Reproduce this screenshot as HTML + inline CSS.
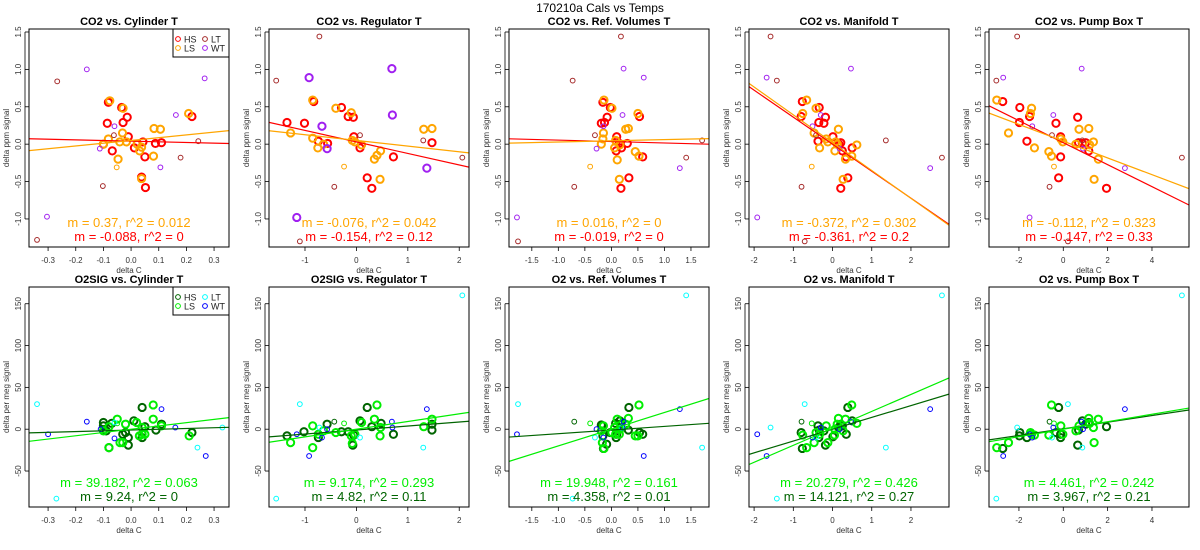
<!DOCTYPE html>
<html><head><meta charset="utf-8"><style>
html,body{margin:0;padding:0;background:#fff;}
svg{display:block;font-family:"Liberation Sans",Arial,sans-serif;}
</style></head><body>
<svg id="chart" width="1200" height="550" viewBox="0 0 1200 550" xmlns="http://www.w3.org/2000/svg">
<text x="600" y="12" text-anchor="middle" font-size="12">170210a   Cals vs Temps</text>
</svg>
<script>
// ---- data ----
const panelTitlesTop = ["CO2 vs. Cylinder T","CO2 vs. Regulator T","CO2 vs. Ref. Volumes T","CO2 vs. Manifold T","CO2 vs. Pump Box T"];
const panelTitlesBot = ["O2SIG vs. Cylinder T","O2SIG vs. Regulator T","O2 vs. Ref. Volumes T","O2 vs. Manifold T","O2 vs. Pump Box T"];
const xRanges = [[-0.369,0.354],[-1.70,2.19],[-1.93,1.84],[-2.13,2.97],[-3.35,5.67]];
const xTicks = [[-0.3,-0.2,-0.1,0.0,0.1,0.2,0.3],[-1,0,1,2],[-1.5,-1.0,-0.5,0.0,0.5,1.0,1.5],[-2,-1,0,1,2],[-2,0,2,4]];
const xTickLabels = [["-0.3","-0.2","-0.1","0.0","0.1","0.2","0.3"],["-1","0","1","2"],["-1.5","-1.0","-0.5","0.0","0.5","1.0","1.5"],["-2","-1","0","1","2"],["-2","0","2","4"]];
const yRangeTop = [-1.375,1.54];
const yRangeBot = [-93,170];
const yTicksTop = [-1.0,-0.5,0.0,0.5,1.0,1.5];
const yTickLabelsTop = ["-1.0","-0.5","0.0","0.5","1.0","1.5"];
const yTicksBot = [-50,0,50,100,150];
const yTickLabelsBot = ["-50","0","50","100","150"];
// fit lines: [slope, intercept]
const fitLSTop = [[0.37,0.05],[-0.076,0.05],[0.016,0.045],[-0.372,0.02],[-0.112,0.04]];
const fitHSTop = [[-0.088,0.04],[-0.154,0.03],[-0.019,0.035],[-0.361,0.0],[-0.147,0.02]];
const fitLSBot = [[39.182,0],[9.174,0],[19.948,0],[20.279,1],[4.461,0]];
const fitHSBot = [[9.24,-1],[4.82,-1],[4.358,-1],[14.121,0],[3.967,0.5]];
const textLSTop = ["m = 0.37, r^2 = 0.012","m = -0.076, r^2 = 0.042","m = 0.016, r^2 = 0","m = -0.372, r^2 = 0.302","m = -0.112, r^2 = 0.323"];
const textHSTop = ["m = -0.088, r^2 = 0","m = -0.154, r^2 = 0.12","m = -0.019, r^2 = 0","m = -0.361, r^2 = 0.2","m = -0.147, r^2 = 0.33"];
const textLSBot = ["m = 39.182, r^2 = 0.063","m = 9.174, r^2 = 0.293","m = 19.948, r^2 = 0.161","m = 20.279, r^2 = 0.426","m = 4.461, r^2 = 0.242"];
const textHSBot = ["m = 9.24, r^2 = 0","m = 4.82, r^2 = 0.11","m = 4.358, r^2 = 0.01","m = 14.121, r^2 = 0.27","m = 3.967, r^2 = 0.21"];
// points [x, y, group]; groups: 0 HS, 1 LS, 2 LT, 3 WT, 4 LS small, 5 HS small, 6 WT large
const co2Cyl = [[-0.082,0.56,0],[-0.086,0.28,0],[-0.034,0.49,0],[-0.029,0.29,0],[-0.014,0.36,0],[-0.01,0.10,0],[-0.068,-0.09,0],[0.012,-0.05,0],[0.043,0.03,0],[0.05,-0.17,0],[0.038,-0.44,0],[0.052,-0.58,0],[0.088,0.01,0],[0.11,0.02,0],[0.22,0.37,0],[-0.10,0.0,0],
[-0.077,0.58,1],[-0.029,0.48,1],[-0.082,0.07,1],[-0.10,0.0,1],[-0.031,0.15,1],[-0.041,0.03,1],[-0.017,0.03,1],[-0.047,-0.2,1],[0.022,0.0,1],[0.031,-0.09,1],[0.038,-0.04,1],[0.038,-0.46,1],[0.083,0.21,1],[0.106,0.20,1],[0.081,-0.16,1],[0.208,0.41,1],[-0.052,-0.31,4],
[-0.267,0.84,2],[-0.102,-0.56,2],[-0.062,0.12,2],[0.179,-0.18,2],[0.243,0.04,2],[-0.34,-1.28,2],
[-0.16,1.0,3],[-0.113,-0.06,3],[-0.06,0.24,3],[0.162,0.39,3],[0.106,-0.31,3],[0.266,0.88,3],[-0.304,-0.97,3]];
const co2Reg = [[-1.35,0.29,0],[-1.01,0.28,0],[-0.83,0.57,0],[-0.74,0.04,0],[-0.56,0.01,0],[-0.29,0.49,0],[-0.16,0.37,0],[-0.06,0.36,0],[-0.05,0.10,0],[0.07,-0.05,0],[0.21,-0.45,0],[0.30,-0.59,0],[0.72,-0.17,0],[1.47,0.02,0],
[-0.85,0.59,1],[-1.28,0.15,1],[-0.85,0.08,1],[-0.75,-0.05,1],[-0.64,0.0,1],[-0.40,0.48,1],[-0.10,0.42,1],[-0.08,0.05,1],[-0.03,0.03,1],[0.10,-0.01,1],[0.35,-0.2,1],[0.40,-0.15,1],[0.47,-0.09,1],[0.46,-0.47,1],[1.31,0.2,1],[1.47,0.21,1],[-0.24,-0.30,4],
[-1.56,0.85,2],[-0.72,1.44,2],[0.07,0.12,2],[-0.43,-0.57,2],[1.30,0.05,2],[2.06,-0.18,2],[-1.10,-1.30,2],
[-0.92,0.89,6],[-0.67,0.24,6],[-0.57,-0.06,6],[0.69,1.01,6],[0.70,0.39,6],[1.37,-0.32,6],[-1.16,-0.98,6]];
const co2Ref = [[-0.16,0.56,0],[-0.19,0.28,0],[-0.13,0.29,0],[-0.08,0.36,0],[-0.02,0.49,0],[0.10,0.10,0],[0.09,0.04,0],[0.19,-0.05,0],[0.15,0.01,0],[0.30,0.01,0],[0.53,0.37,0],[0.59,-0.17,0],[0.33,-0.45,0],[0.18,-0.59,0],[0.09,-0.09,0],
[-0.14,0.59,1],[0.01,0.48,1],[-0.15,0.15,1],[-0.16,0.07,1],[-0.19,0.0,1],[0.08,0.05,1],[0.06,-0.05,1],[0.11,-0.21,1],[0.27,0.2,1],[0.32,0.21,1],[0.50,0.41,1],[0.45,-0.10,1],[0.52,-0.16,1],[0.15,-0.47,1],[0.16,-0.01,1],[-0.40,-0.30,4],
[-0.73,0.85,2],[0.18,1.44,2],[-0.31,0.12,2],[-0.70,-0.57,2],[1.41,-0.18,2],[1.71,0.05,2],[-1.76,-1.30,2],
[0.23,1.01,3],[0.61,0.89,3],[0.21,0.39,3],[-0.15,0.24,3],[-0.28,-0.06,3],[1.29,-0.32,3],[-1.78,-0.98,3]];
const co2Man = [[-0.77,0.57,0],[-0.80,0.37,0],[-0.34,0.49,0],[-0.35,0.29,0],[-0.22,0.28,0],[-0.18,0.36,0],[-0.37,0.04,0],[0.01,0.10,0],[0.21,0.02,0],[0.25,-0.09,0],[0.35,-0.17,0],[0.50,-0.05,0],[0.39,-0.45,0],[0.21,-0.59,0],[0.16,0.0,0],
[-0.66,0.59,1],[-0.42,0.48,1],[-0.76,0.41,1],[-0.47,0.15,1],[-0.16,0.07,1],[-0.12,0.03,1],[-0.33,-0.05,1],[0.06,-0.09,1],[0.15,0.2,1],[0.12,0.0,1],[0.33,-0.2,1],[0.49,-0.16,1],[0.62,-0.01,1],[0.27,-0.47,1],[0.08,0.03,1],[-0.53,-0.30,4],
[-1.42,0.85,2],[-1.58,1.44,2],[-0.42,0.12,2],[-0.79,-0.57,2],[1.36,0.05,2],[2.79,-0.18,2],[-0.71,-1.30,2],
[0.47,1.01,3],[-1.68,0.89,3],[-0.30,0.39,3],[-0.51,0.24,3],[0.18,-0.06,3],[2.49,-0.32,3],[-1.92,-0.98,3]];
const co2Pump = [[-2.73,0.57,0],[-1.96,0.49,0],[-1.98,0.29,0],[-1.52,0.37,0],[-0.33,0.28,0],[-0.12,0.10,0],[-1.64,0.04,0],[-0.12,-0.17,0],[-0.21,-0.45,0],[0.65,0.36,0],[0.69,0.02,0],[0.86,0.01,0],[1.01,0.02,0],[1.15,-0.09,0],[1.95,-0.59,0],
[-3.0,0.59,1],[-1.43,0.48,1],[-1.48,0.41,1],[-2.47,0.15,1],[-1.30,-0.05,1],[-0.65,-0.10,1],[-0.53,-0.16,1],[-0.11,0.07,1],[-0.02,0.03,1],[0.71,0.2,1],[1.15,0.21,1],[0.57,0.0,1],[1.36,0.03,1],[1.19,-0.01,1],[1.58,-0.2,1],[1.39,-0.47,1],[-0.42,-0.30,4],
[-3.02,0.85,2],[-2.08,1.44,2],[-0.51,0.12,2],[0.86,0.05,2],[-0.62,-0.57,2],[5.35,-0.18,2],[0.21,-1.30,2],
[0.83,1.01,3],[-2.71,0.89,3],[-0.45,0.39,3],[-1.40,0.24,3],[0.89,-0.06,3],[2.78,-0.32,3],[-1.52,-0.98,3]];
const o2Cyl = [[-0.10,8,0],[-0.10,4,0],[-0.07,7,0],[-0.09,-2,0],[-0.08,-22,0],[-0.03,-6,0],[-0.02,-4,0],[-0.01,-10,0],[-0.01,-19,0],[0.01,10,0],[0.04,26,0],[0.05,3,0],[0.04,-10,0],[0.09,-1,0],[0.11,6,0],[0.22,-4,0],
[-0.08,-22,1],[-0.05,12,1],[-0.08,3,1],[-0.10,-2,1],[-0.04,-16,1],[-0.03,-16,1],[-0.02,6,1],[0.02,8,1],[0.04,2,1],[0.03,-8,1],[0.04,-6,1],[0.08,29,1],[0.08,12,1],[0.11,4,1],[0.21,-8,1],[0.05,-6,1],[-0.05,7,4],
[-0.34,30,2],[-0.27,-83,2],[-0.06,8,2],[0.24,-22,2],[0.33,2,2],
[-0.16,9,3],[-0.11,0,3],[-0.06,-11,3],[0.16,2,3],[0.11,24,3],[0.27,-32,3],[-0.30,-6,3]];
const o2Reg = [[-1.35,-8,0],[-1.02,-3,0],[-0.74,-10,0],[-0.57,6,0],[-0.43,9,5],[-0.29,-3,0],[-0.16,-3,0],[-0.07,-19,0],[0.07,10,0],[0.21,26,0],[0.30,3,0],[0.48,7,0],[0.72,-6,0],[1.47,6,0],[1.47,-1,0],[-0.05,-7,0],
[-1.28,-16,1],[-0.85,4,1],[-0.85,-22,1],[-0.74,-6,1],[-0.64,-2,1],[-0.40,-4,1],[-0.10,-8,1],[-0.08,-17,1],[-0.03,-6,1],[0.10,8,1],[0.35,12,1],[0.40,29,1],[0.47,2,1],[0.46,-8,1],[1.31,3,1],[1.47,12,1],[-0.24,7,4],
[-1.10,30,2],[-1.56,-83,2],[-0.72,2,2],[0.07,-10,2],[1.30,-22,2],[2.06,160,2],
[-1.16,-6,3],[-0.92,-32,3],[-0.67,-10,3],[-0.57,0,3],[0.69,9,3],[0.70,2,3],[1.37,24,3]];
const o2Ref = [[-0.19,5,0],[-0.16,-8,0],[-0.09,-18,0],[-0.15,-23,0],[-0.02,-4,0],[0.08,7,0],[0.09,-10,0],[0.16,10,0],[0.33,26,0],[0.32,-1,0],[0.53,-4,0],[0.59,-6,0],[0.18,6,0],[0.10,-6,0],[-0.16,4,0],[-0.70,9,5],
[-0.14,-23,1],[-0.17,-16,1],[-0.19,-2,1],[-0.15,4,1],[0.08,-6,1],[0.11,12,1],[0.16,0,1],[0.27,6,1],[0.32,13,1],[0.52,29,1],[0.45,-8,1],[0.50,-8,1],[0.06,2,1],[0.15,-6,1],[0.01,-4,1],[-0.40,7,4],
[-1.76,30,2],[-0.73,-83,2],[-0.31,-10,2],[0.19,2,2],[1.71,-22,2],[1.41,160,2],
[-1.78,-6,3],[-0.28,0,3],[-0.15,-10,3],[0.23,9,3],[0.21,2,3],[0.61,-32,3],[1.29,24,3]];
const o2Man = [[-0.77,-23,0],[-0.80,-4,0],[-0.34,-1,0],[-0.35,-10,0],[-0.22,-2,0],[-0.18,-19,0],[0.01,-9,0],[0.21,6,0],[0.35,-6,0],[0.39,26,0],[0.50,10,0],[0.16,2,0],[0.25,4,0],[-0.37,4,0],[-0.79,9,5],
[-0.66,-22,1],[-0.76,-7,1],[-0.42,-4,1],[-0.47,-16,1],[-0.16,4,1],[-0.12,-16,1],[0.06,0,1],[0.15,13,1],[0.12,6,1],[0.33,12,1],[0.49,29,1],[0.62,7,1],[0.27,-2,1],[0.05,-7,1],[-0.33,-6,1],[-0.53,7,4],
[-0.71,30,2],[-1.42,-83,2],[-1.58,2,2],[-0.42,-10,2],[1.36,-22,2],[2.79,160,2],
[-1.92,-6,3],[-1.68,-32,3],[-0.51,-10,3],[-0.30,2,3],[0.18,0,3],[0.47,9,3],[2.49,24,3]];
const o2Pump = [[-2.73,-23,0],[-1.98,-8,0],[-1.96,-4,0],[-1.64,-10,0],[-0.33,-4,0],[-0.12,-10,0],[-0.21,26,0],[0.65,-19,0],[0.69,-1,0],[0.86,10,0],[1.01,6,0],[1.15,8,0],[1.95,3,0],[-0.12,-6,0],[-0.62,9,5],
[-3.0,-22,1],[-2.47,-16,1],[-1.48,-4,1],[-1.43,-6,1],[-1.30,-7,1],[-0.65,-7,1],[-0.53,29,1],[-0.11,4,1],[-0.02,-6,1],[0.57,-2,1],[0.71,4,1],[1.15,13,1],[1.36,2,1],[1.19,7,1],[1.58,12,1],[1.39,-16,1],[-0.42,7,4],
[-2.08,2,2],[-3.02,-83,2],[-0.51,-10,2],[0.21,30,2],[0.86,-22,2],[5.35,160,2],
[-2.71,-32,3],[-1.40,-10,3],[-1.52,-6,3],[-0.45,2,3],[0.89,0,3],[0.83,9,3],[2.78,24,3]];
const topPoints = [co2Cyl, co2Reg, co2Ref, co2Man, co2Pump];
const botPoints = [o2Cyl, o2Reg, o2Ref, o2Man, o2Pump];
const legendLabels = ["HS","LS","LT","WT"];
const topColors = ["#ff0000","#ffa500","#a52a2a","#a020f0"];
const botColors = ["#006400","#00ee00","#00ffff","#0000ff"];

// ---- drawing ----
const NS = "http://www.w3.org/2000/svg";
const svg = document.getElementById('chart');
function mk(tag, attrs, parent){ const e=document.createElementNS(NS,tag); for(const k in attrs) e.setAttribute(k,attrs[k]); (parent||svg).appendChild(e); return e; }
const defs = mk('defs',{});
const grpColorIdx = [0,1,2,3,1,0,3];
const grpThick = [true,true,false,false,false,false,true];

function drawPanel(row, c){
  const top = row===0;
  const L = 29+240*c, R = 229+240*c;
  const T = top?29:287, B = top?247:507;
  const xr = xRanges[c], yr = top?yRangeTop:yRangeBot;
  const sx = v => L + (v-xr[0])/(xr[1]-xr[0])*(R-L);
  const sy = v => B - (v-yr[0])/(yr[1]-yr[0])*(B-T);
  const colors = top?topColors:botColors;
  const g = mk('g',{});
  
  
  const cp = mk('clipPath',{id:'clip'+row+c},defs);
  mk('rect',{x:L,y:T,width:R-L,height:B-T},cp);
  // title
  const t = mk('text',{x:(L+R)/2,y:T-4,'text-anchor':'middle','font-size':11,'font-weight':'bold'},g);
  t.textContent = top?panelTitlesTop[c]:panelTitlesBot[c];
  
  
  // y ticks
  const yt = top?yTicksTop:yTicksBot, ytl = top?yTickLabelsTop:yTickLabelsBot;
  yt.forEach((v,i)=>{
    const y = sy(v);
    mk('line',{x1:L-4,x2:L,y1:y,y2:y,stroke:'#000','stroke-width':0.8},g);
    const tx = mk('text',{x:0,y:0,'text-anchor':'middle','font-size':8,fill:'#333',transform:`translate(${L-8},${y}) rotate(-90)`},g);
    tx.textContent = ytl[i];
    
    
  });
  mk('line',{x1:L-4,x2:L-4,y1:sy(yt[0]),y2:sy(yt[yt.length-1]),stroke:'#000','stroke-width':0.8},g);
  const ya = mk('text',{x:0,y:0,'text-anchor':'middle','font-size':8,fill:'#333',transform:`translate(${L-20},${(T+B)/2}) rotate(-90)`},g);
  ya.textContent = top?'delta ppm signal':'delta per meg signal';
  
  
  // x ticks
  xTicks[c].forEach((v,i)=>{
    const x = sx(v);
    mk('line',{x1:x,x2:x,y1:B,y2:B+4,stroke:'#000','stroke-width':0.8},g);
    const tx = mk('text',{x:x,y:B+16,'text-anchor':'middle','font-size':8,fill:'#333'},g);
    tx.textContent = xTickLabels[c][i];
    
    
  });
  const xa = mk('text',{x:(L+R)/2,y:B+26,'text-anchor':'middle','font-size':8,fill:'#333'},g);
  xa.textContent = 'delta C';
  
  
  // points
  const pts = top?topPoints[c]:botPoints[c];
  const pg = mk('g',{'clip-path':`url(#clip${row}${c})`},g);
  pts.forEach(p=>{
    const thick = grpThick[p[2]];
    const circ = mk('circle',{cx:sx(p[0]),cy:sy(p[1]),r:thick?3.6:2.4,fill:'none',stroke:colors[grpColorIdx[p[2]]],'stroke-width':thick?2:1},pg);
    
    
  });
  // fit lines
  const fits = top?[[fitHSTop[c],colors[0],'fit-line-hs'],[fitLSTop[c],colors[1],'fit-line-ls']]:[[fitHSBot[c],colors[0],'fit-line-hs'],[fitLSBot[c],colors[1],'fit-line-ls']];
  fits.forEach(f=>{
    const m=f[0][0], b=f[0][1];
    const ln = mk('line',{x1:sx(xr[0]),y1:sy(m*xr[0]+b),x2:sx(xr[1]),y2:sy(m*xr[1]+b),stroke:f[1],'stroke-width':1.2},pg);
    
    
  });
  // box
  mk('rect',{x:L,y:T,width:R-L,height:B-T,fill:'none',stroke:'#000','stroke-width':1},g);
  // annotations
  const a1 = mk('text',{x:(L+R)/2,y:B-20,'text-anchor':'middle','font-size':13,fill:colors[1]},g);
  a1.textContent = top?textLSTop[c]:textLSBot[c];
  
  
  const a2 = mk('text',{x:(L+R)/2,y:B-6,'text-anchor':'middle','font-size':13,fill:colors[0]},g);
  a2.textContent = top?textHSTop[c]:textHSBot[c];
  
  
  // legend in first column
  if(c===0){
    const lg = mk('g',{},g);
    
    
    mk('rect',{x:173,y:T,width:56,height:28,fill:'#fff',stroke:'#000','stroke-width':1},lg);
    legendLabels.forEach((lab,i)=>{
      const lx = i<2?178:205, ly = T+(i%2===0?10:19);
      const e = mk('g',{},lg);
      
      
      mk('circle',{cx:lx,cy:ly,r:2.4,fill:'none',stroke:colors[i],'stroke-width':1},e);
      const tt = mk('text',{x:lx+6,y:ly+3.5,'font-size':9,fill:'#222'},e);
      tt.textContent = lab;
    });
  }
}
for(let r=0;r<2;r++) for(let c=0;c<5;c++) drawPanel(r,c);
</script>
</body></html>
